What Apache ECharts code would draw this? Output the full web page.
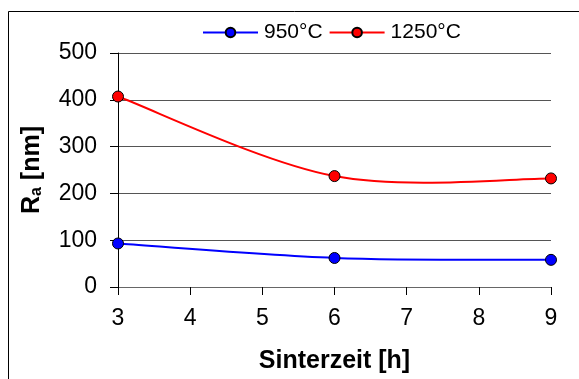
<!DOCTYPE html>
<html>
<head>
<meta charset="utf-8">
<script src="https://cdn.jsdelivr.net/npm/echarts@6/dist/echarts.min.js"></script>
<style>
  html, body { margin: 0; padding: 0; background: #fff; }
  #chart { width: 579px; height: 379px; }
</style>
</head>
<body>
<div id="chart"></div>
<script>
// Sintering time in hours
const sinterTime = [3, 6, 9];
// Roughness Ra in nm for each sintering temperature
const ra950 = [93, 62, 58];
const ra1250 = [407, 237, 232];
const seriesNames = ['950°C', '1250°C'];
const seriesColors = ['#0000ff', '#ff0000'];

const chart = echarts.init(document.getElementById('chart'), null, { renderer: 'canvas' });

const font = 'Liberation Sans, Arial, sans-serif';

function pairs(xs, ys) {
  return xs.map((x, i) => [x, ys[i]]);
}

// Smoothed curve: cubic Bezier segments whose tangents follow the
// neighbouring points (end points use themselves as neighbours).
function curveSeries(id, xs, ys, color) {
  return {
    id: id,
    type: 'custom',
    coordinateSystem: 'cartesian2d',
    data: pairs(xs, ys),
    z: 1,
    silent: true,
    renderItem: function (params, api) {
      const i = params.dataIndex;
      if (i === 0) return null;
      const n = xs.length;
      const P = (k) => {
        const j = Math.max(0, Math.min(n - 1, k));
        return api.coord([xs[j], ys[j]]);
      };
      const p0 = P(i - 1), p1 = P(i);
      const prev = P(i - 2), next = P(i + 1);
      const t0 = [p1[0] - prev[0], p1[1] - prev[1]];
      const t1 = [next[0] - p0[0], next[1] - p0[1]];
      return {
        type: 'bezierCurve',
        shape: {
          x1: p0[0], y1: p0[1],
          cpx1: p0[0] + t0[0] / 6, cpy1: p0[1] + t0[1] / 6,
          cpx2: p1[0] - t1[0] / 6, cpy2: p1[1] - t1[1] / 6,
          x2: p1[0], y2: p1[1]
        },
        style: { stroke: color, lineWidth: 2, fill: null }
      };
    }
  };
}

function markerSeries(name, xs, ys, color) {
  return {
    name: name,
    type: 'line',
    data: pairs(xs, ys),
    z: 3,
    symbol: 'circle',
    symbolSize: 11,
    lineStyle: { color: color, width: 2, opacity: 0 },
    itemStyle: { color: color, borderColor: '#000', borderWidth: 1 }
  };
}

chart.setOption({
  animation: false,
  backgroundColor: '#fff',
  graphic: [{
    type: 'rect',
    shape: { x: 8.5, y: 11.5, width: 700, height: 500 },
    style: { fill: 'none', stroke: '#000', lineWidth: 1 },
    silent: true
  }],
  legend: {
    top: 22,
    left: 202,
    padding: 0,
    itemWidth: 55,
    itemHeight: 12,
    itemGap: 6,
    lineStyle: { width: 2, opacity: 1 },
    textStyle: { fontFamily: font, fontSize: 21, color: '#000', padding: [0, 0, 0, 1] },
    data: seriesNames
  },
  grid: { left: 118, top: 53, right: 28, bottom: 91 },
  xAxis: {
    type: 'value',
    min: 3, max: 9, interval: 1,
    name: 'Sinterzeit [h]',
    nameLocation: 'middle',
    nameGap: 62,
    nameTextStyle: { fontFamily: font, fontSize: 25, fontWeight: 'bold', color: '#000' },
    axisLine: { show: true, onZero: false, lineStyle: { color: '#666', width: 1 } },
    axisTick: { show: true, inside: false, length: 8, lineStyle: { color: '#000' } },
    axisLabel: { fontFamily: font, fontSize: 23, color: '#000', margin: 20 },
    splitLine: { show: false }
  },
  yAxis: {
    type: 'value',
    min: 0, max: 500, interval: 100,
    name: '{b|R}{s|a}{b| [nm]}',
    nameLocation: 'middle',
    nameGap: 73,
    nameRotate: 90,
    nameTextStyle: {
      rich: {
        b: { fontFamily: font, fontSize: 25, fontWeight: 'bold', color: '#000' },
        s: { fontFamily: font, fontSize: 16, fontWeight: 'bold', color: '#000', verticalAlign: 'bottom', padding: [10, 0, 0, 0] }
      }
    },
    axisLine: { show: true, lineStyle: { color: '#000', width: 1 } },
    axisTick: { show: true, inside: false, length: 8, lineStyle: { color: '#000' } },
    axisLabel: { fontFamily: font, fontSize: 23, color: '#000', margin: 21 },
    splitLine: { show: true, lineStyle: { color: '#555', width: 1 } }
  },
  series: [
    markerSeries(seriesNames[0], sinterTime, ra950, seriesColors[0]),
    markerSeries(seriesNames[1], sinterTime, ra1250, seriesColors[1]),
    curveSeries('curve950', sinterTime, ra950, seriesColors[0]),
    curveSeries('curve1250', sinterTime, ra1250, seriesColors[1])
  ]
});
</script>
</body>
</html>
